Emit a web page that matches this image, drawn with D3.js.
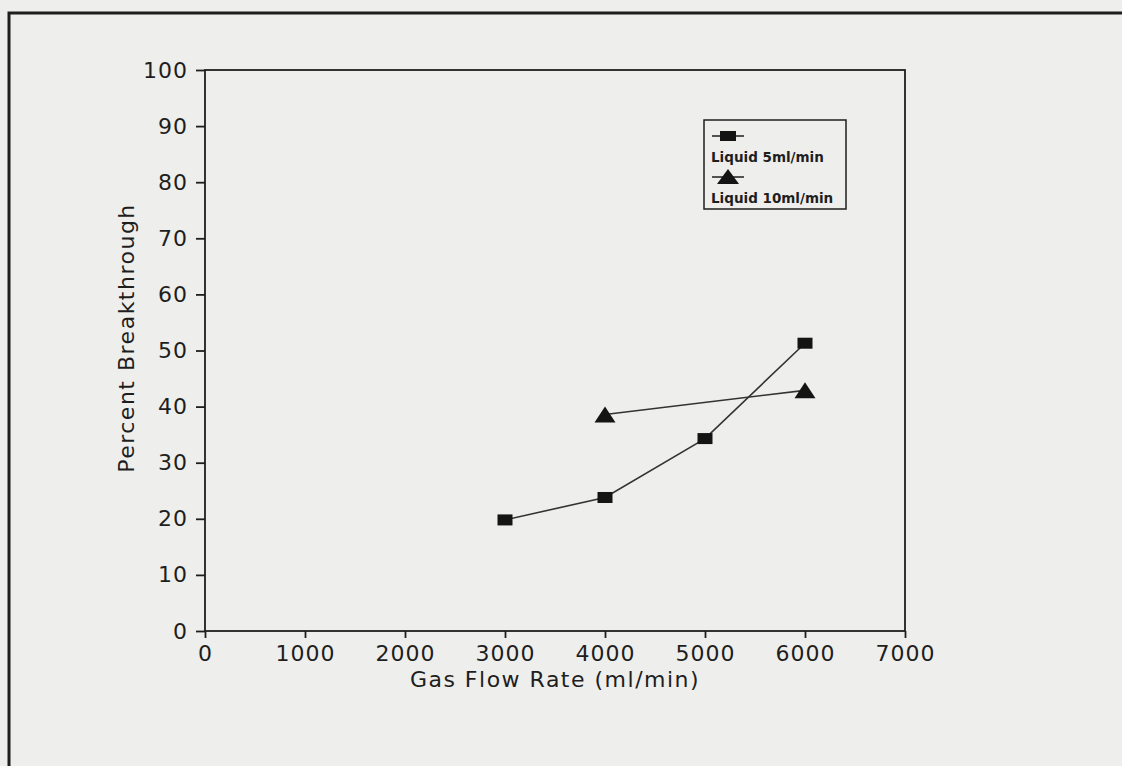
<!DOCTYPE html>
<html>
<head>
<meta charset="utf-8">
<script src="https://cdn.jsdelivr.net/npm/d3@7"></script>
<style>
  body { margin: 0; background: #eeeeec; }
  svg { display: block; }
</style>
</head>
<body>
<svg id="chart"></svg>
<script>
var w = 1122;
var h = 766;

// data
var gasFlow5 = [3000, 4000, 5000, 6000];
var breakthrough5 = [19.8, 23.8, 34.3, 51.3];
var gasFlow10 = [4000, 6000];
var breakthrough10 = [38.6, 42.9];
var xTicks = [0, 1000, 2000, 3000, 4000, 5000, 6000, 7000];
var yTicks = [0, 10, 20, 30, 40, 50, 60, 70, 80, 90, 100];
var seriesNames = ["Liquid 5ml/min", "Liquid 10ml/min"];

// plot edges (window.top is reserved, so prefix them)
var plotLeft = 205, plotRight = 905, plotTop = 70, plotBottom = 631;
var ink = "#1e1e1e";
var font = "DejaVu Sans, sans-serif";

var svg = d3.select("#chart")
  .attr("width", w)
  .attr("height", h);

svg.append("rect")
  .attr("width", w).attr("height", h)
  .attr("fill", "#eeeeec");

// outer frame (cropped on the right and bottom)
svg.append("rect")
  .attr("x", 9).attr("y", 13)
  .attr("width", w + 20).attr("height", h + 20)
  .attr("fill", "none")
  .attr("stroke", ink)
  .attr("stroke-width", 3);

var x = d3.scaleLinear().domain([0, 7000]).range([plotLeft, plotRight]);
var y = d3.scaleLinear().domain([0, 100]).range([plotBottom, plotTop]);

// plot box
svg.append("rect")
  .attr("x", plotLeft).attr("y", plotTop)
  .attr("width", plotRight - plotLeft).attr("height", plotBottom - plotTop)
  .attr("fill", "none")
  .attr("stroke", ink)
  .attr("stroke-width", 1.8);

var xAxis = svg.append("g")
  .attr("transform", "translate(0," + plotBottom + ")")
  .call(d3.axisBottom(x).tickValues(xTicks).tickSize(7).tickPadding(7).tickFormat(d3.format("d")));

var yAxis = svg.append("g")
  .attr("transform", "translate(" + plotLeft + ",0)")
  .call(d3.axisLeft(y).tickValues(yTicks).tickSize(9).tickPadding(8).tickFormat(d3.format("d")));

[xAxis, yAxis].forEach(function(a) {
  a.select(".domain").remove();
  a.selectAll("line").attr("stroke", ink).attr("stroke-width", 1.8);
  a.selectAll("text")
    .attr("fill", ink)
    .style("font-family", font)
    .style("font-size", "22px")
    .style("letter-spacing", "1px");
});

// axis titles
svg.append("text")
  .text("Gas Flow Rate (ml/min)")
  .attr("x", (plotLeft + plotRight) / 2)
  .attr("y", 687)
  .attr("text-anchor", "middle")
  .attr("fill", ink)
  .style("font-family", font)
  .style("font-size", "22px")
  .style("letter-spacing", "1.5px");

svg.append("text")
  .text("Percent Breakthrough")
  .attr("transform", "translate(134,338) rotate(-90)")
  .attr("text-anchor", "middle")
  .attr("fill", ink)
  .style("font-family", font)
  .style("font-size", "22px")
  .style("letter-spacing", "1.5px");

var line = d3.line()
  .x(function(d) { return x(d[0]); })
  .y(function(d) { return y(d[1]); });

var s5 = gasFlow5.map(function(v, i) { return [v, breakthrough5[i]]; });
var s10 = gasFlow10.map(function(v, i) { return [v, breakthrough10[i]]; });

svg.append("path")
  .datum(s5)
  .attr("d", line)
  .attr("fill", "none")
  .attr("stroke", "#333")
  .attr("stroke-width", 1.6);

svg.append("path")
  .datum(s10)
  .attr("d", line)
  .attr("fill", "none")
  .attr("stroke", "#333")
  .attr("stroke-width", 1.6);

var sqW = 15, sqH = 11;
var triW = 21, triH = 16;

function triPath(cx, cy) {
  return "M" + (cx - triW / 2) + "," + (cy + triH / 2) +
    "L" + cx + "," + (cy - triH / 2) +
    "L" + (cx + triW / 2) + "," + (cy + triH / 2) + "Z";
}

svg.append("g")
  .selectAll("rect")
  .data(s5)
  .enter()
  .append("rect")
  .attr("x", function(d) { return x(d[0]) - sqW / 2; })
  .attr("y", function(d) { return y(d[1]) - sqH / 2; })
  .attr("width", sqW)
  .attr("height", sqH)
  .attr("fill", "#141414");

svg.append("g")
  .selectAll("path")
  .data(s10)
  .enter()
  .append("path")
  .attr("d", function(d) { return triPath(x(d[0]), y(d[1])); })
  .attr("fill", "#141414");

// legend
var lg = svg.append("g");
lg.append("rect")
  .attr("x", 704).attr("y", 120)
  .attr("width", 142).attr("height", 89)
  .attr("fill", "none")
  .attr("stroke", ink)
  .attr("stroke-width", 1.5);

lg.append("line")
  .attr("x1", 712).attr("x2", 744)
  .attr("y1", 136).attr("y2", 136)
  .attr("stroke", ink).attr("stroke-width", 1.5);
lg.append("rect")
  .attr("x", 720).attr("y", 131)
  .attr("width", 16).attr("height", 10)
  .attr("fill", "#141414");

lg.append("line")
  .attr("x1", 712).attr("x2", 744)
  .attr("y1", 177).attr("y2", 177)
  .attr("stroke", ink).attr("stroke-width", 1.5);
lg.append("path")
  .attr("d", "M717,184L728,169L739,184Z")
  .attr("fill", "#141414");

lg.selectAll("text")
  .data(seriesNames)
  .enter()
  .append("text")
  .text(function(d) { return d; })
  .attr("x", 711)
  .attr("y", function(d, i) { return 162 + i * 41; })
  .attr("fill", ink)
  .style("font-family", font)
  .style("font-size", "13.5px")
  .style("font-weight", "600");
</script>
</body>
</html>
